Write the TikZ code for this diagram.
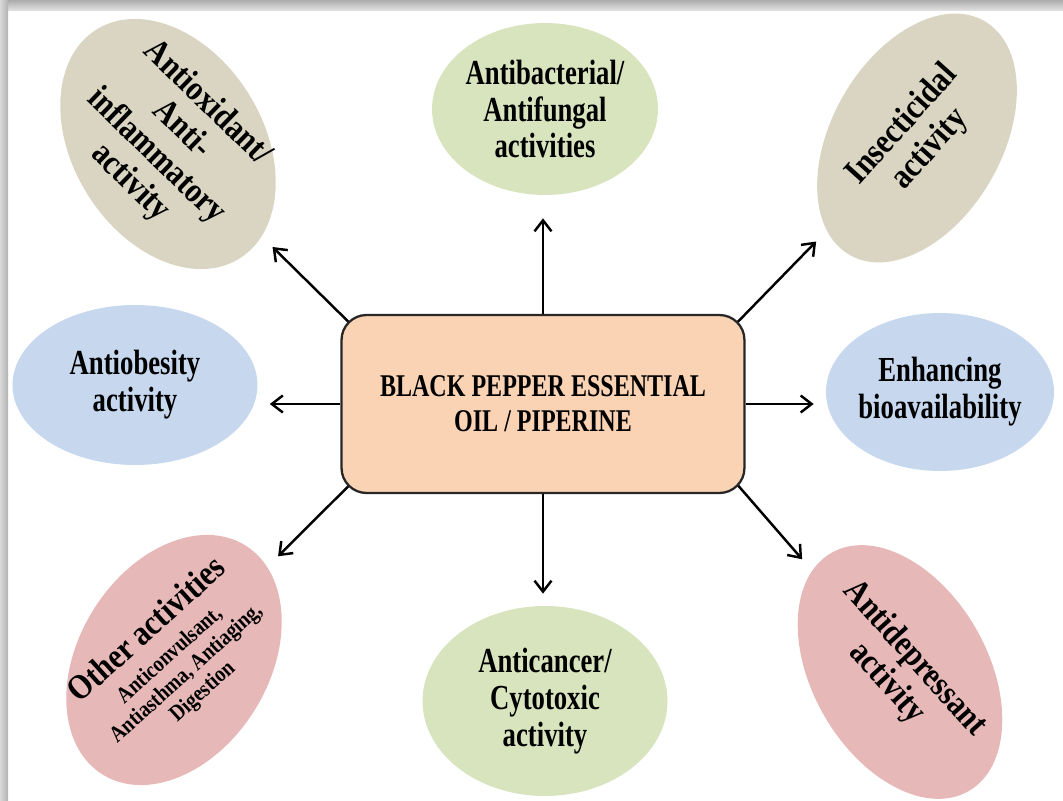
\documentclass[tikz,border=0pt]{standalone}
\usepackage{fontspec}
\setmainfont{Liberation Serif}[FakeStretch=0.76]
\newfontfamily\tiltfont{Liberation Serif}[FakeStretch=0.86]
\usetikzlibrary{shapes.geometric,arrows.meta}
\pgfdeclarelayer{bg}
\pgfsetlayers{bg,main}
\definecolor{tanfill}{HTML}{D9D5C2}
\definecolor{greenfill}{HTML}{D8E4BE}
\definecolor{bluefill}{HTML}{C6D7EE}
\definecolor{pinkfill}{HTML}{E6B9B8}
\definecolor{peachfill}{HTML}{FAD3B4}
\newcommand{\tiltlines}[2]{\rotatebox{#1}{\begin{tabular}{@{}c@{}}#2\end{tabular}}}
\begin{document}
\begin{tikzpicture}[x=0.02cm,y=-0.02cm]
\tikzstyle{every node}+=[inner sep=0pt, align=center, font=\bfseries\fontsize{20}{21}\selectfont]
\tikzstyle{bubble}=[ellipse, inner sep=-0.3cm]
\tikzstyle{tilted}=[ellipse, inner sep=-0.8cm, font=\tiltfont\bfseries\fontsize{20}{21}\selectfont]
\tikzstyle{link}=[-{Straight Barb[length=2.2mm,width=3.4mm]}, line width=1.4pt, shorten >=0.24cm]
\useasboundingbox (0,0) rectangle (1063,801);
\shade [top color=gray!65, bottom color=gray!25] (0,0) rectangle (1063,10);
\shade [left color=gray!30, right color=gray!60] (0,0) rectangle (8,801);
\node [rectangle, rounded corners=0.5cm, draw=black!85, line width=1.3pt, fill=peachfill,
  minimum width=8.06cm, minimum height=3.56cm, font=\bfseries\fontsize{18}{20}\selectfont]
  (core) at (543,404) {BLACK PEPPER ESSENTIAL\\OIL / PIPERINE};
\node [tilted, fill=tanfill, minimum width=5.4cm, minimum height=3.8cm, rotate=-58]
  (antiox) at (168,144) {\tiltlines{14}{Antioxidant/\\Anti-\\inflammatory\\activity}};
\node [bubble, fill=greenfill, minimum width=4.52cm, minimum height=3.44cm]
  (bact) at (545,109) {Antibacterial/\\Antifungal\\activities};
\node [tilted, fill=tanfill, minimum width=5.4cm, minimum height=3.4cm, rotate=60]
  (insect) at (917,138) {\tiltlines{-12}{Insecticidal\\activity}};
\node [bubble, fill=bluefill, minimum width=4.9cm, minimum height=3.2cm]
  (obes) at (135,385) {Antiobesity\\activity};
\node [bubble, fill=bluefill, minimum width=4.56cm, minimum height=3.16cm]
  (enh) at (940,392) {Enhancing\\bioavailability};
\node [tilted, fill=pinkfill, minimum width=5.4cm, minimum height=3.8cm, rotate=58]
  (other) at (174,660) {\tiltlines{-16}{Other activities\\[1pt]
  \fontsize{13}{14}\selectfont\begin{tabular}{@{}c@{}}Anticonvulsant,\\Antiasthma, Antiaging,\\Digestion\end{tabular}}};
\node [bubble, fill=greenfill, minimum width=4.9cm, minimum height=3.8cm]
  (cancer) at (545,701) {Anticancer/\\Cytotoxic\\activity};
\node [tilted, fill=pinkfill, minimum width=5.5cm, minimum height=3.5cm, rotate=-60]
  (depress) at (900,672) {\tiltlines{12}{Antidepressant\\activity}};
\begin{pgfonlayer}{bg}
\draw [link, shorten >=0.46cm] (core.north) -- (core.north |- bact.south);
\draw [link] (core.south) -- (core.south |- cancer.north);
\draw [link] (core.west) -- (core.west -| obes.east);
\draw [link] (core.east) -- (core.east -| enh.west);
\draw [link, shorten <=-0.3cm, shorten >=0.3cm] (core.north west) -- (antiox);
\draw [link, shorten <=-0.3cm, shorten >=0.3cm] (core.north east) -- (insect);
\draw [link, shorten <=-0.3cm, shorten >=0.3cm] (core.south west) -- (other);
\draw [link, shorten <=-0.3cm, shorten >=0.3cm] (core.south east) -- (depress);
\end{pgfonlayer}
\end{tikzpicture}
\end{document}
